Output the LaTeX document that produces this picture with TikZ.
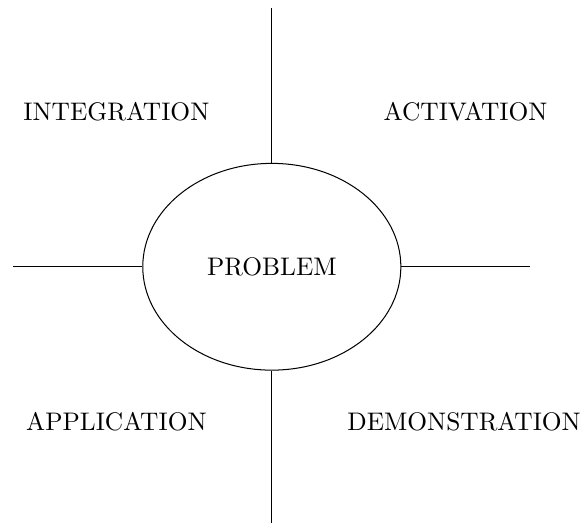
\documentclass[tikz,border=0pt]{standalone}
\usetikzlibrary{shapes}
\usetikzlibrary{positioning}
\begin{document}
\begin{tikzpicture}
                \useasboundingbox (-3.76,-3.545) rectangle (4.36,3.69);
                \tikzstyle{quad}=[inner sep=0pt]
                \node[draw,ellipse,minimum width=3.57cm,minimum height=2.86cm,inner sep=0pt] (prob) at (0,0) {PROBLEM};

                \coordinate (top) at (0,3.58);
                \coordinate (bot) at (0,-3.55);
                \coordinate (lft) at (-3.58,0);
                \coordinate (rgt) at (3.57,0);

                \draw (prob.north) -- (top);
                \draw (prob.south) -- (bot);
                \draw (prob.west) -- (lft);
                \draw (prob.east) -- (rgt);

                \node[quad] (integ) at (-2.15,2.15) {INTEGRATION};
                \node[quad] (activ) at (2.68,2.15) {ACTIVATION};
                \node[quad] (appl) at (-2.15,-2.14) {APPLICATION};
                \node[quad] (demo) at (2.66,-2.14) {DEMONSTRATION};
            \end{tikzpicture}
\end{document}
